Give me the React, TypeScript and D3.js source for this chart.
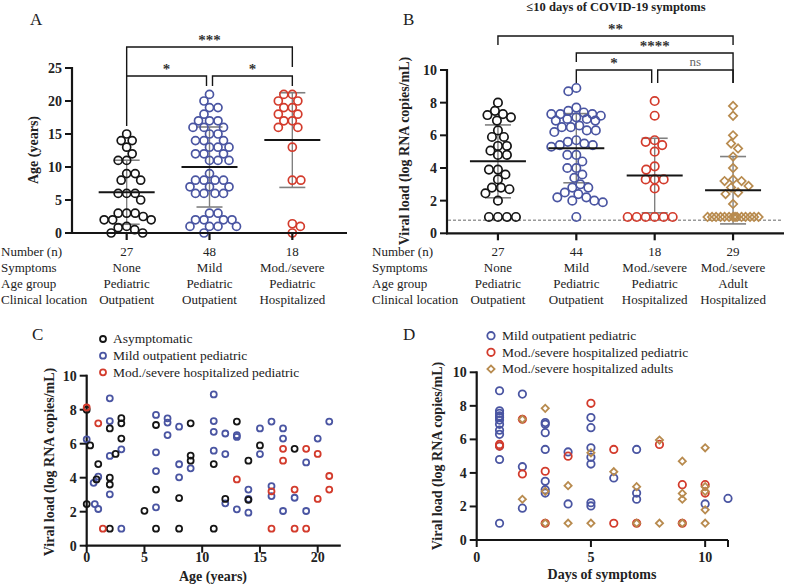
import React, { useEffect, useRef } from "react";
import * as d3 from "d3";

const FONT = "'Liberation Serif', 'Times New Roman', serif";
const BLACK = "#151515";
const BLUE = "#4a55a2";
const RED = "#d33b2c";
const GOLD = "#b88b4f";
const GREY = "#808080";
const TEXT = "#222";

// ---------- Panel A: age by group ----------
const groupsA = ["none", "mild", "modsev"];
const ageNone = [15, 14, 14, 13, 12, 11, 11, 9, 9, 8, 8, 6, 6, 6, 5, 3, 3, 3, 2.5, 2, 2, 2, 1, 0.8, 0.5, 0, 0];
const ageMild = [21, 20, 19, 19, 18, 17, 17, 17, 16, 16, 16, 15, 15, 14, 14, 14, 13, 13, 13, 12, 12, 12, 11, 11, 11, 9, 8, 8, 8, 8, 7, 7, 7, 6, 6, 6, 6, 3, 3, 2, 2, 2, 2, 1, 1, 1, 1, 0];
const ageModSevere = [21, 21, 20, 20, 19, 19, 18, 18, 17, 17, 16, 16, 13, 8, 8, 1.4, 1, 0];
const yTicksA = [0, 5, 10, 15, 20, 25];

// ---------- Panel B: viral load by group (<=10 days) ----------
const groupsB = ["nonePed", "mildPed", "modsevPed", "modsevAdult"];
const vlNone = [8.0, 7.5, 7.3, 7.24, 7.1, 6.9, 6.3, 5.9, 5.9, 5.35, 5.35, 5.06, 4.8, 4.8, 3.9, 3.9, 3.6, 3.3, 2.8, 2.8, 2.7, 2.45, 2.0, 1.0, 1.0, 1.0, 1.0];
const vlMild = [8.9, 8.7, 7.7, 7.5, 7.4, 7.3, 7.3, 7.3, 7.2, 7.1, 7.0, 7.0, 6.9, 6.9, 6.6, 6.5, 6.5, 6.3, 6.3, 6.2, 5.7, 5.6, 5.5, 5.4, 5.4, 5.3, 4.8, 4.8, 4.4, 4.0, 4.0, 3.6, 3.4, 3.0, 2.8, 2.8, 2.5, 2.4, 2.2, 2.2, 2.0, 2.0, 1.9, 1.0];
const vlModSevPed = [8.1, 7.2, 5.7, 5.6, 5.4, 5.0, 4.1, 3.9, 3.3, 3.3, 3.3, 2.75, 1, 1, 1, 1, 1, 1];
const vlModSevAdult = [7.8, 7.2, 6.0, 5.5, 5.2, 4.7, 4.0, 3.3, 3.2, 3.2, 2.9, 2.8, 2.5, 2.4, 1.8, 1, 1, 1, 1, 1, 1, 1, 1, 1, 1, 1, 1, 1, 1];
const detectionLimit = 0.8;
const yTicksVL = [0, 2, 4, 6, 8, 10];

// ---------- Tables under A and B ----------
const rowLabels = ["Number (n)", "Symptoms", "Age group", "Clinical location"];
const tableA = [
  ["27", "48", "18"],
  ["None", "Mild", "Mod./severe"],
  ["Pediatric", "Pediatric", "Pediatric"],
  ["Outpatient", "Outpatient", "Hospitalized"],
];
const tableB = [
  ["27", "44", "18", "29"],
  ["None", "Mild", "Mod./severe", "Mod./severe"],
  ["Pediatric", "Pediatric", "Pediatric", "Adult"],
  ["Outpatient", "Outpatient", "Hospitalized", "Hospitalized"],
];

// ---------- Panel C: viral load vs age ----------
const cAsymptomatic: [number, number][] = [[0, 8.0], [0, 2.45], [0.3, 5.9], [1, 4.8], [0.85, 3.9], [2, 6.9], [2, 4.0], [2, 3.6], [2, 1.0], [2.5, 5.4], [3, 7.5], [3, 7.2], [3, 6.3], [5, 2.05], [6, 7.1], [6, 3.3], [6, 1.0], [8, 2.8], [8, 1.0], [9, 7.2], [9, 5.3], [9, 5.0], [11, 4.8], [11, 1.0], [12, 2.75], [13, 7.3], [14, 5.0], [14, 2.7], [15, 5.9], [18, 5.7]];
const cMild: [number, number][] = [[0, 6.26], [0.6, 3.7], [1, 4.06], [0.7, 2.45], [1, 2.16], [2, 8.67], [2, 7.33], [2, 5.28], [2, 3.02], [3, 5.67], [3, 1.0], [6, 7.69], [6, 5.49], [6, 4.39], [6, 2.26], [7, 7.49], [7, 7.24], [7, 6.51], [8, 7.0], [8, 4.79], [8, 4.02], [9, 4.55], [11, 8.9], [11, 7.33], [11, 6.7], [11, 5.59], [12, 6.6], [12, 5.39], [12, 2.49], [13, 6.5], [13, 6.4], [13, 2.14], [14, 3.3], [14, 2.75], [14, 1.94], [15, 6.9], [15, 5.39], [16, 7.3], [16, 3.51], [16, 2.92], [17, 6.9], [17, 6.3], [17, 2.04], [18, 2.82], [19, 4.9], [19, 2.04], [20, 6.3], [21, 7.3]];
const cModSevere: [number, number][] = [[0, 8.13], [1, 7.2], [1.4, 1.0], [13, 3.9], [16, 3.2], [16, 1.0], [17, 5.7], [17, 5.0], [18, 3.3], [18, 1.0], [19, 5.7], [19, 1.0], [20, 5.4], [20, 2.75], [21, 4.1], [21, 3.3]];
const xTicksC = [0, 5, 10, 15, 20];

// ---------- Panel D: viral load vs days of symptoms ----------
const dMild: [number, number][] = [[1, 8.9], [1, 7.7], [1, 7.55], [1, 7.4], [1, 7.3], [1, 7.15], [1, 6.9], [1, 6.55], [1, 6.3], [1, 5.6], [1, 4.8], [1, 1.0], [2, 8.7], [2, 4.37], [2, 1.9], [3, 7.0], [3, 6.9], [3, 6.4], [3, 5.4], [3, 3.5], [3, 3.0], [3, 2.8], [4, 5.25], [4, 2.15], [5, 7.3], [5, 6.7], [5, 5.5], [5, 4.93], [5, 4.53], [5, 2.22], [5, 2.03], [6, 3.7], [7, 5.4], [7, 2.8], [7, 2.43], [10, 2.15], [11, 2.48]];
const dModSevPed: [number, number][] = [[1, 5.7], [1, 5.6], [2, 7.2], [2, 3.94], [3, 4.1], [3, 1.0], [4, 5.0], [5, 8.15], [6, 5.4], [6, 1.0], [7, 1.0], [8, 5.7], [9, 3.3], [9, 1.0], [10, 3.3], [10, 2.8]];
const dModSevAdult: [number, number][] = [[2, 7.2], [2, 2.43], [3, 7.85], [3, 2.9], [3, 1.0], [4, 3.24], [4, 1.0], [5, 5.2], [5, 1.0], [6, 4.07], [7, 3.18], [7, 1.0], [8, 5.96], [8, 1.0], [9, 4.7], [9, 2.78], [9, 2.43], [9, 1.0], [10, 5.5], [10, 3.18], [10, 2.9], [10, 1.8], [10, 1.0]];
const xTicksD = [0, 5, 10];

type Sel = d3.Selection<any, unknown, null, undefined>;

function swarmOffsets(values: number[], yScale: (v: number) => number, minDist: number, maxHalf: number): number[] {
  const idx = values.map((_, i) => i).sort((a, b) => values[b] - values[a]);
  const placed: [number, number][] = [];
  const out: number[] = new Array(values.length).fill(0);
  idx.forEach((i, k) => {
    const py = yScale(values[i]);
    const near = placed.filter((p) => Math.abs(p[1] - py) < minDist);
    let best = 0;
    let bestScore = -1;
    let ok = false;
    const sgn = k % 2 === 0 ? 1 : -1;
    for (let s = 0; s <= maxHalf && !ok; s += 0.5) {
      const cands = s === 0 ? [0] : [sgn * s, -sgn * s];
      for (const c of cands) {
        let md = Infinity;
        for (const p of near) md = Math.min(md, Math.hypot(p[0] - c, p[1] - py));
        if (md >= minDist) {
          best = c;
          ok = true;
          break;
        }
        if (md > bestScore) {
          bestScore = md;
          best = c;
        }
      }
    }
    placed.push([best, py]);
    out[i] = best;
  });
  return out;
}

const diamond = d3.symbol().type(d3.symbolSquare);

function drawMarker(g: Sel, x: number, y: number, color: string, shape: string, r: number, sw: number) {
  if (shape === "diamond") {
    g.append("path")
      .attr("d", diamond.size((r * Math.SQRT2) ** 2)() as string)
      .attr("transform", `translate(${x},${y}) rotate(45)`)
      .attr("fill", "none")
      .attr("stroke", color)
      .attr("stroke-width", sw);
  } else {
    g.append("circle").attr("cx", x).attr("cy", y).attr("r", r).attr("fill", "none").attr("stroke", color).attr("stroke-width", sw);
  }
}

function yAxis(g: Sel, x0: number, y: d3.ScaleLinear<number, number>, ticks: number[]) {
  const [lo, hi] = y.domain();
  g.append("line").attr("x1", x0).attr("x2", x0).attr("y1", y(hi) - 1).attr("y2", y(lo) + 1).attr("stroke", BLACK).attr("stroke-width", 2.2);
  ticks.forEach((t) => {
    g.append("line").attr("x1", x0 - 7).attr("x2", x0).attr("y1", y(t)).attr("y2", y(t)).attr("stroke", BLACK).attr("stroke-width", 2);
    g.append("text").attr("x", x0 - 10).attr("y", y(t)).attr("dy", "0.35em").attr("text-anchor", "end")
      .attr("font-family", FONT).attr("font-weight", "bold").attr("font-size", 14).attr("fill", TEXT).text(String(t));
  });
}

function bracket(g: Sel, x1: number, x2: number, yTop: number, yL: number, yR: number) {
  g.append("path").attr("d", `M${x1},${yL}V${yTop}H${x2}V${yR}`).attr("fill", "none").attr("stroke", BLACK).attr("stroke-width", 1.4);
}

function sigText(g: Sel, x: number, y: number, label: string) {
  const ns = label === "ns";
  g.append("text").attr("x", x).attr("y", y).attr("text-anchor", "middle").attr("font-family", FONT)
    .attr("font-size", ns ? 13 : 15).attr("font-weight", ns ? "normal" : "bold").attr("fill", ns ? "#666" : "#333").text(label);
}

function dotPanel(
  g: Sel,
  groups: { key: string; values: number[]; color: string; shape: string; minDist: number }[],
  x: d3.ScalePoint<string>,
  y: d3.ScaleLinear<number, number>,
  xEnd: number,
  r: number
) {
  const x0 = x.range()[0];
  const y0 = y(0);
  groups.forEach((grp) => {
    const cx = x(grp.key) as number;
    const m = d3.mean(grp.values) as number;
    const sd = d3.deviation(grp.values) as number;
    g.append("line").attr("x1", cx).attr("x2", cx).attr("y1", y(m + sd)).attr("y2", y(Math.max(m - sd, 0))).attr("stroke", GREY).attr("stroke-width", 1.4);
    [m + sd, m - sd].forEach((v) => {
      g.append("line").attr("x1", cx - 13).attr("x2", cx + 13).attr("y1", y(v)).attr("y2", y(v)).attr("stroke", GREY).attr("stroke-width", 1.6);
    });
    const offs = swarmOffsets(grp.values, y, grp.minDist, 27);
    grp.values.forEach((v, i) => drawMarker(g, cx + offs[i], y(v), grp.color, grp.shape, r, 1.7));
    g.append("line").attr("x1", cx - 28).attr("x2", cx + 28).attr("y1", y(m)).attr("y2", y(m)).attr("stroke", BLACK).attr("stroke-width", 2);
  });
  g.append("line").attr("x1", x0 - 1).attr("x2", xEnd).attr("y1", y0).attr("y2", y0).attr("stroke", BLACK).attr("stroke-width", 2.2);
  groups.forEach((grp) => {
    const cx = x(grp.key) as number;
    g.append("line").attr("x1", cx).attr("x2", cx).attr("y1", y0).attr("y2", y0 + 7).attr("stroke", BLACK).attr("stroke-width", 2.2);
  });
}

function table(g: Sel, labelX: number, x: d3.ScalePoint<string>, keys: string[], rows: string[][]) {
  const baselines = [256, 272, 288, 304];
  rowLabels.forEach((lab, ri) => {
    g.append("text").attr("x", labelX).attr("y", baselines[ri]).attr("font-family", FONT).attr("font-size", 13).attr("fill", TEXT).text(lab);
    rows[ri].forEach((cell, ci) => {
      g.append("text").attr("x", x(keys[ci]) as number).attr("y", baselines[ri]).attr("text-anchor", "middle")
        .attr("font-family", FONT).attr("font-size", 13).attr("fill", TEXT).text(cell);
    });
  });
}

function rotLabel(g: Sel, x: number, y: number, label: string) {
  g.append("text").attr("transform", `translate(${x},${y}) rotate(-90)`).attr("text-anchor", "middle").attr("dy", "0.35em")
    .attr("font-family", FONT).attr("font-weight", "bold").attr("font-size", 14).attr("fill", TEXT).text(label);
}

function panelLetter(g: Sel, x: number, y: number, l: string) {
  g.append("text").attr("x", x).attr("y", y).attr("font-family", FONT).attr("font-size", 17).attr("fill", TEXT).text(l);
}

function scatterPanel(
  g: Sel,
  x: d3.ScaleLinear<number, number>,
  y: d3.ScaleLinear<number, number>,
  xTicks: number[],
  endTick: boolean,
  series: { data: [number, number][]; color: string; shape: string; r: number }[],
  labelBase: number
) {
  const [x0, x1] = x.range();
  const y0 = y(0);
  yAxis(g, x0, y, yTicksVL);
  g.append("line").attr("x1", x0 - 1).attr("x2", x1).attr("y1", y0).attr("y2", y0).attr("stroke", BLACK).attr("stroke-width", 2.2);
  xTicks.forEach((t) => {
    g.append("line").attr("x1", x(t)).attr("x2", x(t)).attr("y1", y0).attr("y2", y0 + 7).attr("stroke", BLACK).attr("stroke-width", 2);
    g.append("text").attr("x", x(t)).attr("y", labelBase).attr("text-anchor", "middle").attr("font-family", FONT)
      .attr("font-weight", "bold").attr("font-size", 14).attr("fill", TEXT).text(String(t));
  });
  if (endTick) {
    g.append("line").attr("x1", x1).attr("x2", x1).attr("y1", y0).attr("y2", y0 + 7).attr("stroke", BLACK).attr("stroke-width", 2);
  }
  series.forEach((s) => {
    s.data.forEach(([a, v]) => drawMarker(g, x(a), y(v), s.color, s.shape, s.r, 1.8));
  });
}

function legend(g: Sel, mx: number, tx: number, ys: number[], items: { label: string; color: string; shape: string; r: number }[]) {
  items.forEach((it, i) => {
    drawMarker(g, mx, ys[i], it.color, it.shape, it.r, 1.8);
    g.append("text").attr("x", tx).attr("y", ys[i]).attr("dy", "0.33em").attr("font-family", FONT).attr("font-size", 13.5).attr("fill", TEXT).text(it.label);
  });
}

export default function App() {
  const ref = useRef<SVGSVGElement>(null);
  useEffect(() => {
    const svg = d3.select(ref.current) as unknown as Sel;
    svg.selectAll("*").remove();
    svg.append("rect").attr("width", 785).attr("height", 587).attr("fill", "#fff");

    // ----- Panel A -----
    const gA = svg.append("g");
    const xA = d3.scalePoint<string>().domain(groupsA).range([72, 347]).padding(0.66);
    const yA = d3.scaleLinear().domain([0, 25]).range([233, 68]);
    panelLetter(gA, 30, 25, "A");
    yAxis(gA, 72, yA, yTicksA);
    dotPanel(gA, [
      { key: "none", values: ageNone, color: BLACK, shape: "circle", minDist: 8.4 },
      { key: "mild", values: ageMild, color: BLUE, shape: "circle", minDist: 8.4 },
      { key: "modsev", values: ageModSevere, color: RED, shape: "circle", minDist: 8.4 },
    ], xA, yA, 347, 4);
    rotLabel(gA, 33, 150, "Age (years)");
    const a0 = xA("none") as number, a1 = xA("mild") as number, a2 = xA("modsev") as number;
    bracket(gA, a0, a2, 47, 76, 67);
    bracket(gA, a0, a1 - 3, 76, 126, 86);
    bracket(gA, a1 + 3, a2, 76, 86, 86);
    sigText(gA, (a0 + a2) / 2, 45, "***");
    sigText(gA, (a0 + a1 - 3) / 2, 74, "*");
    sigText(gA, (a1 + 3 + a2) / 2, 74, "*");
    table(gA, 1, xA, groupsA, tableA);

    // ----- Panel B -----
    const gB = svg.append("g");
    const xB = d3.scalePoint<string>().domain(groupsB).range([447, 784]).padding(0.65);
    const yB = d3.scaleLinear().domain([0, 10]).range([233.3, 70]);
    panelLetter(gB, 403, 25, "B");
    gB.append("text").attr("x", 616).attr("y", 11).attr("text-anchor", "middle").attr("font-family", FONT)
      .attr("font-weight", "bold").attr("font-size", 12.5).attr("fill", TEXT).text("≤10 days of COVID-19 symptoms");
    yAxis(gB, 447, yB, yTicksVL);
    gB.append("line").attr("x1", 448).attr("x2", 782).attr("y1", yB(detectionLimit)).attr("y2", yB(detectionLimit))
      .attr("stroke", "#999").attr("stroke-width", 1.3).attr("stroke-dasharray", "3,2");
    dotPanel(gB, [
      { key: "nonePed", values: vlNone, color: BLACK, shape: "circle", minDist: 8.6 },
      { key: "mildPed", values: vlMild, color: BLUE, shape: "circle", minDist: 8.6 },
      { key: "modsevPed", values: vlModSevPed, color: RED, shape: "circle", minDist: 8.8 },
      { key: "modsevAdult", values: vlModSevAdult, color: GOLD, shape: "diamond", minDist: 8.4 },
    ], xB, yB, 784, 4.2);
    rotLabel(gB, 404, 151, "Viral load (log RNA copies/mL)");
    const b0 = xB("nonePed") as number, b1 = xB("mildPed") as number, b2 = xB("modsevPed") as number, b3 = xB("modsevAdult") as number;
    bracket(gB, b0, b3, 36, 45, 45);
    bracket(gB, b1, b3, 53, 62, 83);
    bracket(gB, b1, b2 - 3, 70, 83, 83);
    bracket(gB, b2 + 3, b3, 70, 83, 83);
    sigText(gB, (b0 + b3) / 2, 34, "**");
    sigText(gB, (b1 + b3) / 2, 51, "****");
    sigText(gB, (b1 + b2 - 3) / 2, 68, "*");
    sigText(gB, (b2 + 3 + b3) / 2, 66, "ns");
    table(gB, 372, xB, groupsB, tableB);

    // ----- Panel C -----
    const gC = svg.append("g");
    const xC = d3.scaleLinear().domain([0, 22]).range([86.7, 340.8]);
    const yC = d3.scaleLinear().domain([0, 10]).range([545.7, 375.7]);
    panelLetter(gC, 32, 340, "C");
    scatterPanel(gC, xC, yC, xTicksC, false, [
      { data: cMild, color: BLUE, shape: "circle", r: 3 },
      { data: cAsymptomatic, color: BLACK, shape: "circle", r: 3 },
      { data: cModSevere, color: RED, shape: "circle", r: 3 },
    ], 562);
    rotLabel(gC, 49, 462, "Viral load (log RNA copies/mL)");
    gC.append("text").attr("x", 213).attr("y", 581).attr("text-anchor", "middle").attr("font-family", FONT)
      .attr("font-weight", "bold").attr("font-size", 14).attr("fill", TEXT).text("Age (years)");
    legend(gC, 103, 113, [339, 355.7, 372.3], [
      { label: "Asymptomatic", color: BLACK, shape: "circle", r: 3 },
      { label: "Mild outpatient pediatric", color: BLUE, shape: "circle", r: 3 },
      { label: "Mod./severe hospitalized pediatric", color: RED, shape: "circle", r: 3 },
    ]);

    // ----- Panel D -----
    const gD = svg.append("g");
    const xD = d3.scaleLinear().domain([0, 11]).range([476.7, 728]);
    const yD = d3.scaleLinear().domain([0, 10]).range([540, 372.3]);
    panelLetter(gD, 403, 340, "D");
    scatterPanel(gD, xD, yD, xTicksD, true, [
      { data: dMild, color: BLUE, shape: "circle", r: 3.7 },
      { data: dModSevPed, color: RED, shape: "circle", r: 3.7 },
      { data: dModSevAdult, color: GOLD, shape: "diamond", r: 3.6 },
    ], 562);
    rotLabel(gD, 437, 456, "Viral load (log RNA copies/mL)");
    gD.append("text").attr("x", 602).attr("y", 579).attr("text-anchor", "middle").attr("font-family", FONT)
      .attr("font-weight", "bold").attr("font-size", 14).attr("fill", TEXT).text("Days of symptoms");
    legend(gD, 491, 502, [335.7, 352.3, 369], [
      { label: "Mild outpatient pediatric", color: BLUE, shape: "circle", r: 3.7 },
      { label: "Mod./severe hospitalized pediatric", color: RED, shape: "circle", r: 3.7 },
      { label: "Mod./severe hospitalized adults", color: GOLD, shape: "diamond", r: 3.6 },
    ]);
  }, []);
  return (
    <svg ref={ref} width={785} height={587} style={{ position: "absolute", left: 0, top: 0, background: "#fff" }} />
  );
}
